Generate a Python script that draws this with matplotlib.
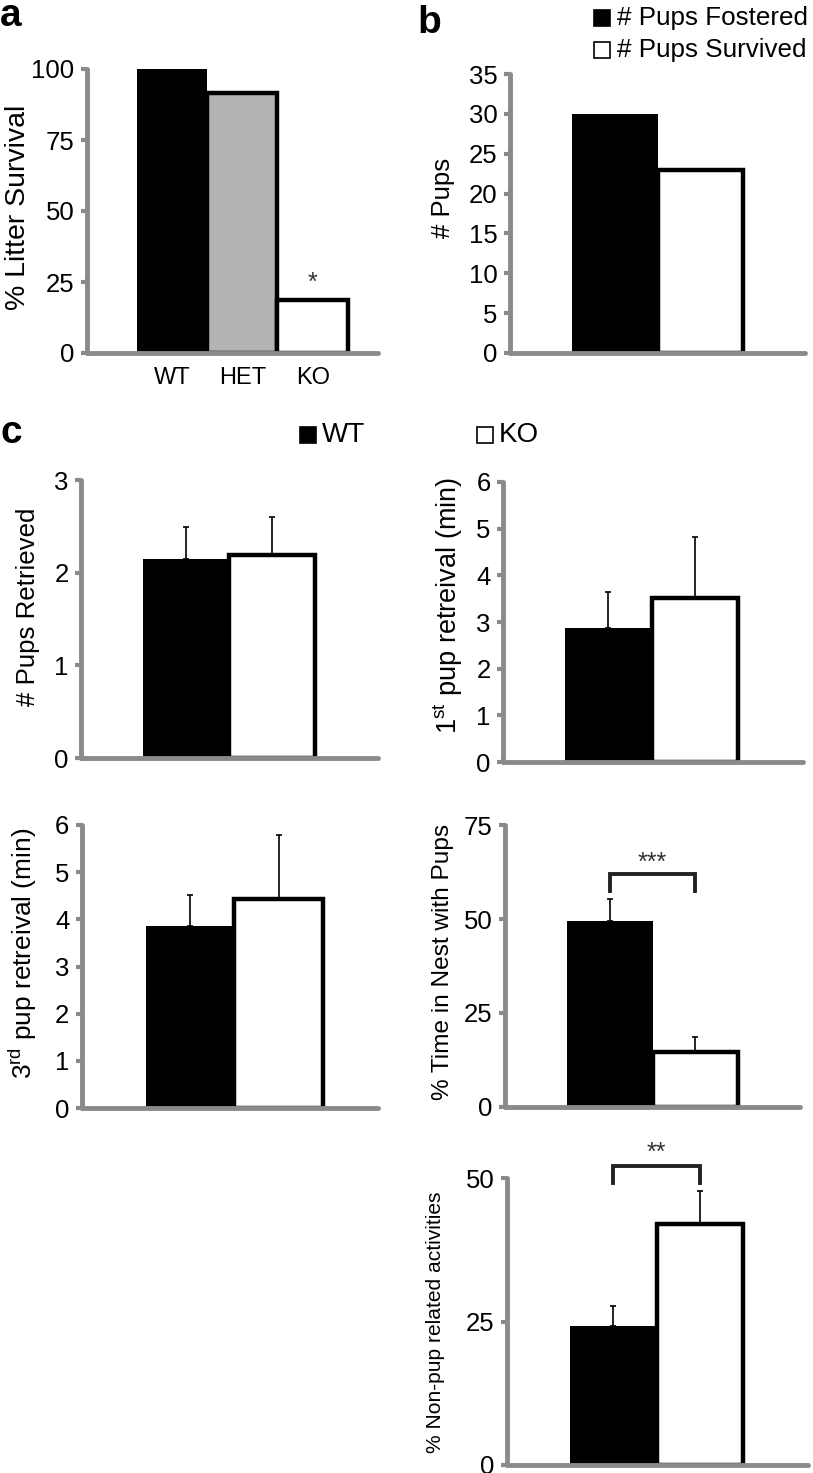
import numpy as np
import matplotlib
matplotlib.use("Agg")
import matplotlib.pyplot as plt
from matplotlib.patches import Rectangle

plt.rcParams['font.family'] = ['Liberation Sans', 'DejaVu Sans']
plt.rcParams['mathtext.fontset'] = 'custom'
plt.rcParams['mathtext.rm'] = 'Liberation Sans'

# ---- data ----
# a: litter survival
genotypes = ['WT', 'HET', 'KO']
litter_survival = [100, 91.7, 18.7]
# b: fostering
foster_labels = ['# Pups Fostered', '# Pups Survived']
foster_counts = [30, 23]
# c: maternal behaviour, WT vs KO (mean, upper SEM)
groups = ['WT', 'KO']
pups_retrieved = [2.15, 2.19]
pups_retrieved_err = [0.34, 0.41]
first_retrieval = [2.87, 3.51]
first_retrieval_err = [0.77, 1.31]
third_retrieval = [3.86, 4.43]
third_retrieval_err = [0.66, 1.36]
time_in_nest = [49.6, 14.6]
time_in_nest_err = [5.8, 4.0]
non_pup = [24.2, 42.0]
non_pup_err = [3.5, 5.7]

W, H = 813, 1473
SPINE = '#8a8a8a'


def box(x0, x1, ytop, ybot):
    return [x0 / W, 1 - ybot / H, (x1 - x0) / W, (ybot - ytop) / H]


def fx(x):
    return x / W


def fy(y):
    return 1 - y / H


fig = plt.figure(figsize=(W / 100, H / 100), dpi=100)


def style_axes(ax, ymax, step, xlim):
    ax.set_xlim(*xlim)
    ax.set_ylim(0, ymax)
    ax.set_yticks(np.arange(0, ymax + step / 2, step))
    for s in ['top', 'right']:
        ax.spines[s].set_visible(False)
    for s in ['left', 'bottom']:
        ax.spines[s].set_color(SPINE)
        ax.spines[s].set_linewidth(3.5)
        ax.spines[s].set_capstyle('round')
    ax.tick_params(axis='y', length=4, width=3, color=SPINE, labelsize=18.5, pad=5)
    ax.tick_params(axis='x', length=0)
    ax.set_facecolor('none')


def bars(ax, vals, colors):
    x = np.arange(len(vals))
    for xi, v, c in zip(x, vals, colors):
        if c == 'black':
            ax.bar(xi, v, width=1.0, color=c, linewidth=0, zorder=2)
        else:
            ax.bar(xi, v, width=1.0, color=c, edgecolor='black', linewidth=3.2, zorder=2)
    return x


def errs(ax, x, vals, err):
    ax.errorbar(x, vals, yerr=[np.zeros(len(err)), err], fmt='none', ecolor='black',
                elinewidth=1.2, capsize=2.5, capthick=1.2, zorder=1)


def bracket(ax, y_low, y_high, stars, y_text):
    ax.plot([0, 0, 1, 1], [y_low, y_high, y_high, y_low], color='#222222', lw=2.8,
            clip_on=False, solid_joinstyle='miter')
    ax.text(0.5, y_text, stars, ha='center', va='center', fontsize=18, color='#333333',
            clip_on=False)


# ---- panel a ----
ax = fig.add_axes(box(87, 378, 69, 353))
style_axes(ax, 100, 25, (-1.21, 2.93))
xa = bars(ax, litter_survival, ['black', '#b3b3b3', 'white'])
ax.set_xticks(xa)
ax.set_xticklabels(genotypes, fontsize=17)
ax.tick_params(axis='x', pad=10)
ax.text(xa[2], litter_survival[2] + 6, '*', ha='center', va='center', fontsize=18, color='#333333')
fig.text(fx(18), fy(207), '% Litter Survival', rotation=90, ha='center', va='center', fontsize=20.5)

# ---- panel b ----
ax = fig.add_axes(box(510, 805, 74, 353))
style_axes(ax, 35, 5, (-1.23, 2.23))
bars(ax, foster_counts, ['black', 'white'])
ax.set_xticks([])
fig.text(fx(443), fy(198), '# Pups', rotation=90, ha='center', va='center', fontsize=18.5)

# legend for b
for i, (lab, c) in enumerate(zip(foster_labels, ['black', 'white'])):
    yc = 18 + i * 32
    fig.patches.append(Rectangle((fx(594), fy(yc + 8)), 16 / W, 16 / H, transform=fig.transFigure,
                                 facecolor=c, edgecolor='black', linewidth=1.2))
    fig.text(fx(617), fy(yc), lab, ha='left', va='center', fontsize=18.7)

# ---- panel c ----
ax = fig.add_axes(box(81, 378, 480, 758))
style_axes(ax, 3, 1, (-1.22, 2.23))
xc = bars(ax, pups_retrieved, ['black', 'white'])
errs(ax, xc, pups_retrieved, pups_retrieved_err)
ax.set_xticks([])
fig.text(fx(28), fy(607), '# Pups Retrieved', rotation=90, ha='center', va='center', fontsize=18.6)

ax = fig.add_axes(box(503, 803, 482, 762))
style_axes(ax, 6, 1, (-1.22, 2.25))
xc = bars(ax, first_retrieval, ['black', 'white'])
errs(ax, xc, first_retrieval, first_retrieval_err)
ax.set_xticks([])
fig.text(fx(448), fy(605), r'1$^\mathrm{st}$ pup retreival (min)', rotation=90, ha='center',
         va='center', fontsize=19.5)

ax = fig.add_axes(box(82, 378, 825, 1108))
style_axes(ax, 6, 1, (-1.22, 2.12))
xc = bars(ax, third_retrieval, ['black', 'white'])
errs(ax, xc, third_retrieval, third_retrieval_err)
ax.set_xticks([])
fig.text(fx(23), fy(953), r'3$^\mathrm{rd}$ pup retreival (min)', rotation=90, ha='center',
         va='center', fontsize=18.9)

ax = fig.add_axes(box(505, 800, 825, 1107))
style_axes(ax, 75, 25, (-1.23, 2.23))
xc = bars(ax, time_in_nest, ['black', 'white'])
errs(ax, xc, time_in_nest, time_in_nest_err)
ax.set_xticks([])
bracket(ax, 57.4, 62, '***', 65)
fig.text(fx(443), fy(962), '% Time in Nest with Pups', rotation=90, ha='center', va='center',
         fontsize=17.6)

ax = fig.add_axes(box(507, 808, 1178, 1465))
style_axes(ax, 50, 25, (-1.23, 2.25))
xc = bars(ax, non_pup, ['black', 'white'])
errs(ax, xc, non_pup, non_pup_err)
ax.set_xticks([])
bracket(ax, 49.1, 52.1, '**', 54.3)
fig.text(fx(435), fy(1322), '% Non-pup related activities', rotation=90, ha='center',
         va='center', fontsize=15.1)

# legend for c
for lab, c, x0 in zip(groups, ['black', 'white'], [300, 477]):
    fig.patches.append(Rectangle((fx(x0), fy(443)), 16 / W, 16 / H, transform=fig.transFigure,
                                 facecolor=c, edgecolor='black', linewidth=1.2))
    fig.text(fx(x0 + 22), fy(435), lab, ha='left', va='center', fontsize=20)

# panel letters
for lab, x, y in [('a', 0, 26), ('b', 417, 33), ('c', 0, 443)]:
    fig.text(fx(x), fy(y), lab, ha='left', va='baseline', fontsize=28, fontweight='bold')

fig.savefig('out.png', dpi=100)
